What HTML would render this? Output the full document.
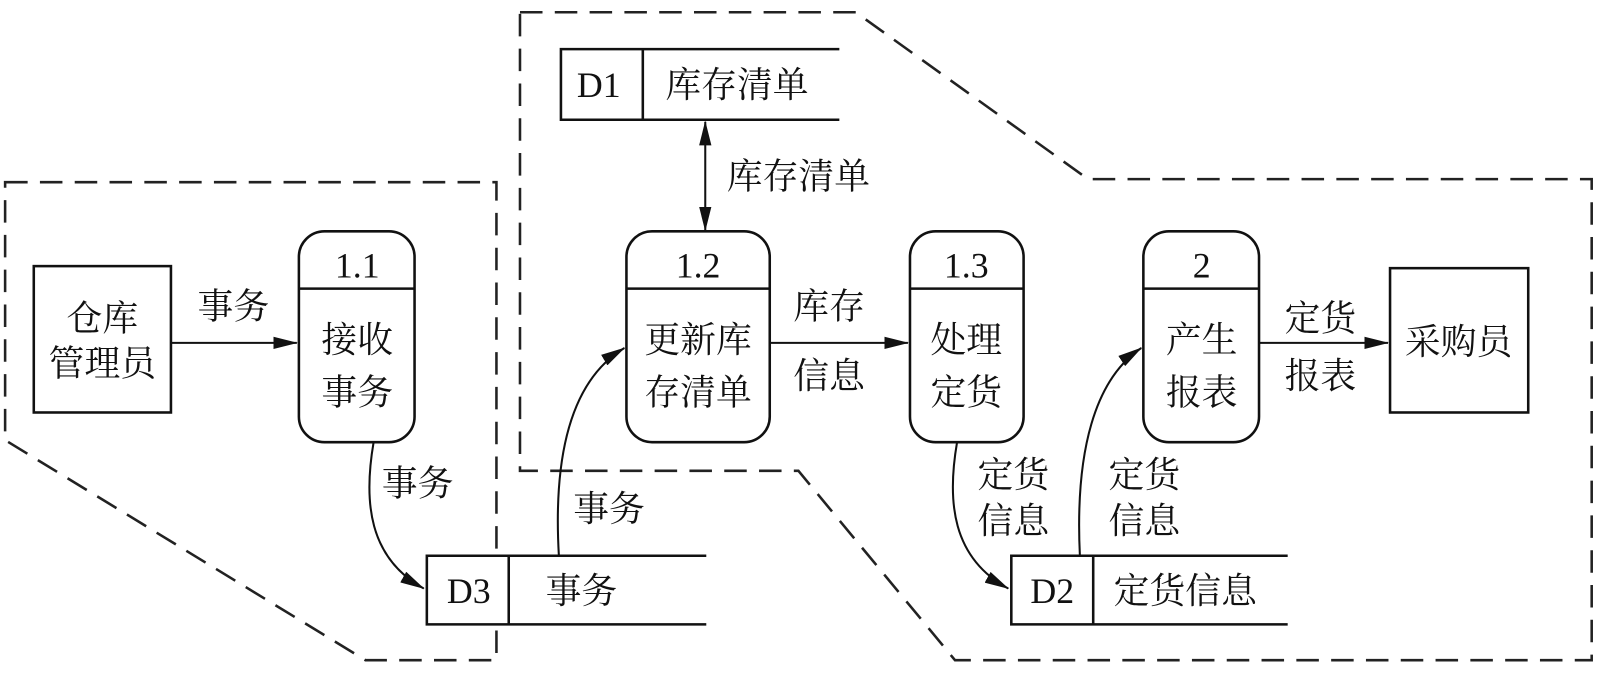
<!DOCTYPE html>
<html><head><meta charset="utf-8"><style>
html,body{margin:0;padding:0;background:#fff;}
svg{display:block}
text{font-family:"Liberation Serif","Noto Serif CJK SC","Noto Sans CJK SC",serif;fill:#111;}
</style></head><body>
<svg width="1605" height="696" viewBox="0 0 1568 680" preserveAspectRatio="none" xmlns="http://www.w3.org/2000/svg">
<defs>
<marker id="b" markerWidth="24" markerHeight="12" refX="23" refY="6" orient="auto-start-reverse" markerUnits="userSpaceOnUse"><path d="M0,0 L24,6 L0,12 Z" fill="#111"/></marker></defs>
<g fill="none" stroke="#222" stroke-width="2.5" stroke-dasharray="22,12">
<path d="M5,178 L485,178 L485,645 L357,645 L5,430 Z"/>
<path d="M508,12 L836,12 L1063,175 L1555,175 L1555,645 L933,645 L780,460 L508,460 Z"/>
</g>
<g fill="#fff" stroke="#111" stroke-width="2.5">
<rect x="548" y="48" width="290" height="69" stroke="none"/>
<path d="M820,48 L548,48 L548,117 L820,117 M628,48 L628,117"/>
<rect x="417" y="543" width="280" height="67" stroke="none"/>
<path d="M690,543 L417,543 L417,610 L690,610 M497,543 L497,610"/>
<rect x="988" y="543" width="275" height="67" stroke="none"/>
<path d="M1258,543 L988,543 L988,610 L1258,610 M1068,543 L1068,610"/>
<rect x="33" y="260" width="134" height="143"/>
<rect x="1358" y="262" width="135" height="141"/>
<rect x="292" y="226" width="113" height="206" rx="25"/>
<rect x="612" y="226" width="140" height="206" rx="25"/>
<rect x="889" y="226" width="111" height="206" rx="25"/>
<rect x="1117" y="226" width="113" height="206" rx="25"/>
<path d="M292,282 L405,282 M612,282 L752,282 M889,282 L1000,282 M1117,282 L1230,282"/>
</g>
<g fill="none" stroke="#111" stroke-width="2">
<path d="M167,335 L290,335" marker-end="url(#b)"/>
<path d="M752,335 L887,335" marker-end="url(#b)"/>
<path d="M1230,335 L1356,335" marker-end="url(#b)"/>
<path d="M689,119 L689,225" marker-start="url(#b)" marker-end="url(#b)"/>
<path d="M365,432 C355,490 360,545 414,575" marker-end="url(#b)"/>
<path d="M546,543 C540,440 560,370 610,340" marker-end="url(#b)"/>
<path d="M935,432 C925,490 930,545 985,575" marker-end="url(#b)"/>
<path d="M1055,543 C1050,440 1070,370 1115,340" marker-end="url(#b)"/>
</g>
<g font-size="35" text-anchor="middle">
<text x="585" y="95">D1</text><text x="720" y="95">库存清单</text>
<text x="780" y="184">库存清单</text>
<text x="100" y="323">仓库</text><text x="100" y="367">管理员</text>
<text x="228" y="311">事务</text>
<text x="349" y="271">1.1</text><text x="349" y="344">接收</text><text x="349" y="395">事务</text>
<text x="682" y="271">1.2</text><text x="682" y="344">更新库</text><text x="682" y="395">存清单</text>
<text x="810" y="311">库存</text><text x="810" y="379">信息</text>
<text x="944" y="271">1.3</text><text x="944" y="344">处理</text><text x="944" y="395">定货</text>
<text x="1174" y="271">2</text><text x="1174" y="344">产生</text><text x="1174" y="395">报表</text>
<text x="1290" y="323">定货</text><text x="1290" y="379">报表</text>
<text x="1425" y="346">采购员</text>
<text x="408" y="484">事务</text>
<text x="595" y="509">事务</text>
<text x="990" y="476">定货</text><text x="990" y="521">信息</text>
<text x="1118" y="476">定货</text><text x="1118" y="521">信息</text>
<text x="458" y="589">D3</text><text x="568" y="589">事务</text>
<text x="1028" y="589">D2</text><text x="1158" y="589">定货信息</text>
</g>
</svg>
</body></html>
